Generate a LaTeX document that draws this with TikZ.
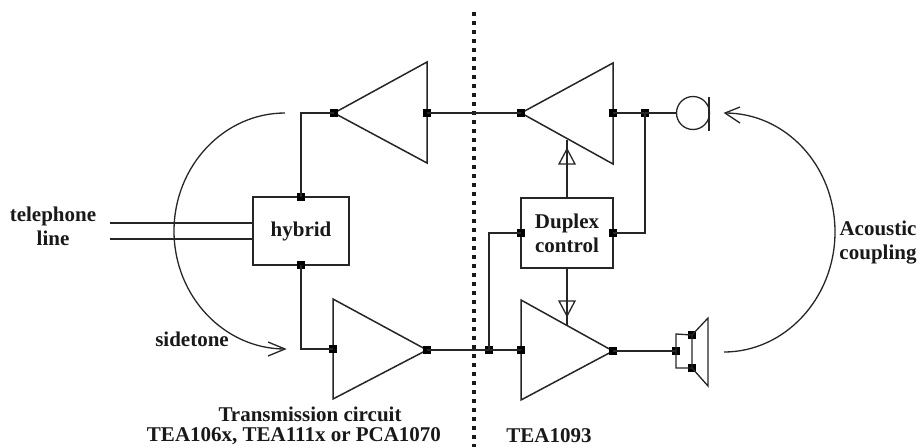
\documentclass[tikz,border=0pt]{standalone}
\usepackage{fontspec}
\setmainfont{Liberation Serif}
\begin{document}
\begin{tikzpicture}[x=1pt,y=-1pt,
  wire/.style={line width=1.5pt,draw=black!85},
  thin wire/.style={line width=1.3pt,draw=black!85},
  blockbox/.style={draw=black!85,line width=1.5pt,fill=white,inner sep=0pt},
  pin/.style={fill=black,draw=none,minimum size=7.5pt,inner sep=0pt,rectangle},
  lab/.style={font=\fontsize{21}{24}\selectfont\bfseries,align=center,text=black!90,inner sep=0pt}]
\useasboundingbox (0,0) rectangle (920,447);
% dotted separator
\coordinate (dtop) at (474,12);
\coordinate (dbot) at (474,447);
\draw[line width=3.6pt,dash pattern=on 4pt off 5pt,draw=black!90] (dtop) -- (dbot);
% amplifiers
\draw[blockbox] (334,113) -- (427,62) -- (427,163) -- cycle;
\draw[blockbox] (333,299) -- (427,350) -- (333,399) -- cycle;
\draw[blockbox] (521,113) -- (613,63) -- (613,164) -- cycle;
\draw[blockbox] (521,300) -- (613,351) -- (521,400) -- cycle;
% boxes
\node[blockbox,minimum width=96pt,minimum height=68pt,lab,anchor=center] (hyb) at (301,231) {hybrid};
\node[blockbox,minimum width=92pt,minimum height=70pt,lab,anchor=center] (dup) at (567,233) {Duplex\\control};
% pins
\foreach \n/\x/\y in {p1/334/113,p2/427/113,p3/521/113,p4/613/113,p5/645/113,
  p6/301/197,p7/301/265,p8/521/233,p9/613/233,p10/333/349,p11/427/350,p12/489/350,
  p13/521/350,p14/613/351,p15/676/351,p16/692/335,p17/692/368}
  \node[pin] (\n) at (\x,\y) {};
% mic
\node[circle,draw=black!85,line width=1.3pt,minimum size=33pt,inner sep=0pt] (mic) at (693,113) {};
\coordinate (ma) at (709,97);
\coordinate (mb) at (709,131);
\draw[wire] (ma) -- (mb);
% connectors
\coordinate (hu) at (301,113);
\coordinate (hd) at (301,349);
\draw[wire] (p6.center) -- (hu) -- (p1.center);
\draw[wire] (p7.center) -- (hd) -- (p10.center);
\draw[wire] (p2.center) -- (p3.center);
\draw[wire] (p4.center) -- (mic.west);
\draw[wire] (p5.center) |- (p9.center);
\draw[wire] (p11.center) -- (p13.center);
\draw[wire] (p8.center) -| (p12.center);
\draw[wire] (p14.center) -- (p15.center);
% speaker
\coordinate (su) at (676,334);
\coordinate (sd) at (676,368);
\coordinate (c1) at (708,318);
\coordinate (c2) at (708,386);
\draw[thin wire] (p15.center) -- (su) -- (p16.center) -- (p17.center) -- (sd) -- (p15.center);
\draw[thin wire] (p16.center) -- (c1) -- (c2) -- (p17.center);
% control arrows
\coordinate (a1) at (567,198);
\coordinate (a2) at (567,140);
\coordinate (a3) at (567,268);
\coordinate (a4) at (567,325);
\draw[wire] (a1) -- (a2);
\draw[wire] (a3) -- (a4);
\draw[thin wire] (567,149) -- (575,164) -- (559,164) -- cycle;
\draw[thin wire] (567,316) -- (575,301) -- (559,301) -- cycle;
% telephone line
\coordinate (t1) at (110,223);
\coordinate (t2) at (110,239);
\draw[wire] (t1) -- (hyb.west |- t1);
\draw[wire] (t2) -- (hyb.west |- t2);
% sidetone
\coordinate (s0) at (285,113);
\coordinate (s1) at (285,349);
\draw[thin wire] (s0) .. controls (224,113) and (174,166) .. (174,231)
   .. controls (174,296) and (224,349) .. (s1);
\draw[thin wire] (268,342) -- (s1) -- (268,356);
% acoustic
\coordinate (k0) at (724,352);
\coordinate (k1) at (725,113);
\draw[thin wire] (k0) .. controls (785,352) and (835,298) .. (835,232)
   .. controls (835,166) and (786,113) .. (k1);
\draw[thin wire] (740,107) -- (k1) -- (740,123);
% labels
\node[lab] (tl) at (53,226) {telephone\\line};
\node[lab] (st) at (192,339) {sidetone};
\node[lab] (ac) at (878,243) {Acoustic\\coupling};
\node[lab] (tc) at (310,414) {Transmission circuit};
\node[lab] (tv) at (294,436) {TEA106x, TEA111x or PCA1070};
\node[lab] (te) at (549,436) {TEA1093};
\end{tikzpicture}
\end{document}
